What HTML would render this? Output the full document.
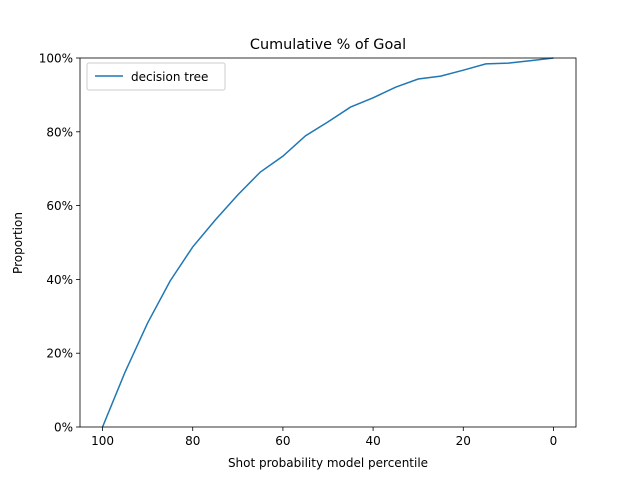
<!DOCTYPE html>
<html><head><meta charset="utf-8"><style>
body{margin:0;background:#fff;font-family:"Liberation Sans","DejaVu Sans",sans-serif;}
svg text{font-family:"DejaVu Sans","Liberation Sans",sans-serif;}
</style></head><body>
<svg id="chart" width="640" height="480" xmlns="http://www.w3.org/2000/svg">
<rect width="640" height="480" fill="#fff"/>
<text x="328" y="49" font-size="14.4" text-anchor="middle">Cumulative % of Goal</text>
<g id="axes"></g>
<text x="328" y="467" font-size="12" text-anchor="middle">Shot probability model percentile</text>
<text x="22" y="243" font-size="12" text-anchor="middle" transform="rotate(-90 22 243)">Proportion</text>
<g>
<rect x="87" y="63" width="138" height="27" rx="2" fill="#fff" stroke="#ccc"/>
<line x1="95" y1="76" x2="123" y2="76" stroke="#1f77b4" stroke-width="1.5"/>
<text x="131" y="81" font-size="12">decision tree</text>
</g>
</svg>
<script>
const percentiles=[100,95,90,85,80,75,70,65,60,55,50,45,40,35,30,25,20,15,10,5,0];
const proportions=[0,0.149,0.282,0.396,0.488,0.561,0.629,0.691,0.734,0.789,0.827,0.867,0.892,0.921,0.943,0.951,0.967,0.984,0.986,0.993,1.0];
const xTicks=[100,80,60,40,20,0];
const yTicks=[0,0.2,0.4,0.6,0.8,1.0];
const yTickLabels=["0%","20%","40%","60%","80%","100%"];
const L=80,R=576,T=58,B=427;
const xs=v=>L+(105-v)/110*(R-L);
const ys=v=>B-v*(B-T);
const NS="http://www.w3.org/2000/svg";
const g=document.getElementById('axes');
function mk(t,a){const e=document.createElementNS(NS,t);for(const k in a)e.setAttribute(k,a[k]);g.appendChild(e);return e;}
xTicks.forEach(v=>{
const l=mk('line',{x1:xs(v),x2:xs(v),y1:B,y2:B+4,stroke:'#000','stroke-width':0.8});


const t=mk('text',{x:xs(v),y:B+18,'font-size':12,'text-anchor':'middle'});t.textContent=v;


});
yTicks.forEach((v,i)=>{
const l=mk('line',{x1:L-4,x2:L,y1:ys(v),y2:ys(v),stroke:'#000','stroke-width':0.8});


const t=mk('text',{x:L-7,y:ys(v)+4.5,'font-size':12,'text-anchor':'end'});t.textContent=yTickLabels[i];


});
const p=mk('polyline',{points:percentiles.map((x,i)=>xs(x)+','+ys(proportions[i])).join(' '),fill:'none',stroke:'#1f77b4','stroke-width':1.5});


const f=mk('rect',{x:L,y:T,width:R-L,height:B-T,fill:'none',stroke:'#000','stroke-width':0.8});


</script>
</body></html>
